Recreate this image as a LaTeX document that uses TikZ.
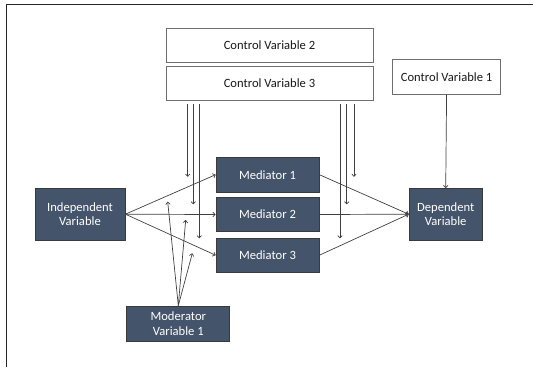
\documentclass[tikz,border=0pt]{standalone}
\usepackage{fontspec}
\setmainfont{Carlito}
\usetikzlibrary{arrows.meta}
\definecolor{boxdark}{HTML}{44546A}
\definecolor{boxline}{HTML}{3A3A3A}
\definecolor{ctrlline}{HTML}{6E6E6E}
\tikzset{
  darkbox/.style={draw=boxline, line width=0.8pt, fill=boxdark, text=white,
    font=\fontsize{12.6}{14.5}\selectfont, align=center, inner sep=0pt},
  ctrlbox/.style={draw=ctrlline, line width=0.8pt, fill=white, text=black!90,
    font=\fontsize{12.6}{14.5}\selectfont, align=center, inner sep=0pt},
  link/.style={draw=black!75, line width=0.7pt, -{To[length=3pt,width=5pt]}},
}
\begin{document}
\begin{tikzpicture}[x=1pt,y=-1pt]
\useasboundingbox (0,0) rectangle (533,367);
% page frame (top and left edges)
\draw[line width=1.3pt, black!85] (533,4.3) -- (6.8,4.3) -- (6.8,367);

% control variable boxes
\node[ctrlbox, minimum width=207pt, minimum height=34pt] (c2) at (269.5,45) {Control Variable 2};
\node[ctrlbox, minimum width=207pt, minimum height=34pt] (c3) at (269.5,83) {Control Variable 3};
\node[ctrlbox, minimum width=108.5pt, minimum height=34.5pt] (c1) at (446.6,76.7) {Control Variable 1};

% variable boxes
\node[darkbox, minimum width=90pt, minimum height=51.5pt] (iv) at (80,214.2) {Independent\\Variable};
\node[darkbox, minimum width=73.3pt, minimum height=51.5pt] (dv) at (445.7,214.2) {Dependent\\Variable};
\node[darkbox, minimum width=103pt, minimum height=34.4pt] (m1) at (267.5,174.7) {Mediator 1};
\node[darkbox, minimum width=103pt, minimum height=34.4pt] (m2) at (267.5,214.5) {Mediator 2};
\node[darkbox, minimum width=103pt, minimum height=34.4pt] (m3) at (267.5,255.2) {Mediator 3};
\node[darkbox, minimum width=103pt, minimum height=35.5pt] (mod) at (178.3,323.8) {Moderator\\Variable 1};

% free ends of the control and moderator arrows
\coordinate (ca1) at (187.7,176.7);
\coordinate (ca2) at (193.3,204.3);
\coordinate (ca3) at (199.3,238.3);
\coordinate (cb1) at (354,176.7);
\coordinate (cb2) at (346.7,204.3);
\coordinate (cb3) at (340,238.3);
\coordinate (ma1) at (167.7,201.7);
\coordinate (ma2) at (185.7,220);
\coordinate (ma3) at (192.3,253.3);

% independent variable to mediators
\draw[link] (iv.east) -- (m1.west);
\draw[link] (iv.east) -- (m2.west);
\draw[link] (iv.east) -- (m3.west);

% mediators to dependent variable
\draw[link] (m1.east) -- (dv.west);
\draw[link] (m2.east) -- (dv.west);
\draw[link] (m3.east) -- (dv.west);

% control variable 1 to dependent variable
\draw[link] (c1.south) -- (dv.north);

% control variable 3 arrows
\foreach \p in {ca1,ca2,ca3,cb1,cb2,cb3}
  \draw[link] (c3.south -| \p) ++(0,3.5) -- (\p);

% moderator arrows
\foreach \p in {ma1,ma2,ma3}
  \draw[link] (mod.north) -- (\p);
\end{tikzpicture}
\end{document}
